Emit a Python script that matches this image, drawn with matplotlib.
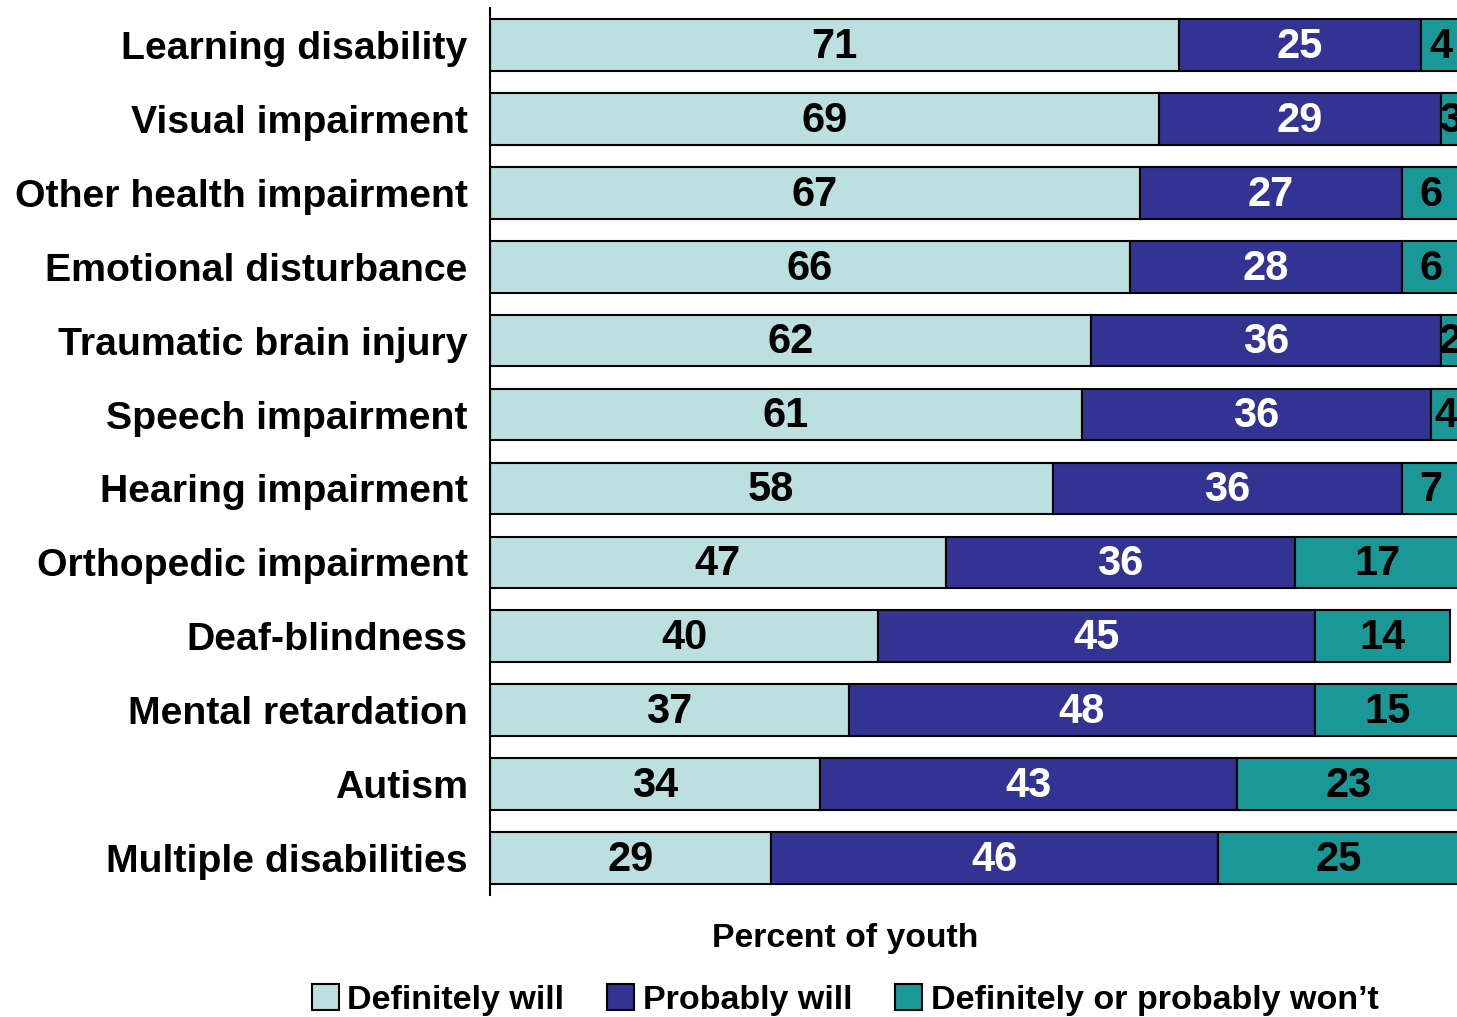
import numpy as np
import matplotlib.pyplot as plt
from matplotlib.patches import Patch

plt.rcParams['font.family'] = ['Liberation Sans', 'DejaVu Sans']
plt.rcParams['font.weight'] = 'bold'

categories = [
    "Learning disability", "Visual impairment", "Other health impairment",
    "Emotional disturbance", "Traumatic brain injury", "Speech impairment",
    "Hearing impairment", "Orthopedic impairment", "Deaf-blindness",
    "Mental retardation", "Autism", "Multiple disabilities",
]
definitely_will = [71, 69, 67, 66, 62, 61, 58, 47, 40, 37, 34, 29]
probably_will = [25, 29, 27, 28, 36, 36, 36, 36, 45, 48, 43, 46]
wont = [4, 3, 6, 6, 2, 4, 7, 17, 14, 15, 23, 25]

series = ["Definitely will", "Probably will", "Definitely or probably won\u2019t"]
colors = ["#bcdfdf", "#333393", "#1a9898"]
text_colors = ["black", "white", "black"]

fig = plt.figure(figsize=(14.57, 10.17), dpi=100)
ax = fig.add_axes([490 / 1457, 1 - 895 / 1017, 970 / 1457, 887 / 1017])

y = np.arange(len(categories))
left = np.zeros(len(categories))
for vals, col, tcol in zip([definitely_will, probably_will, wont], colors, text_colors):
    vals = np.array(vals, dtype=float)
    ax.barh(y, vals, left=left, height=0.7, color=col, edgecolor='black', linewidth=1.5)
    for yi, l, v in zip(y, left, vals):
        right = min(l + v, 100)
        ax.text((l + right) / 2, yi + 0.025, f"{int(v)}", ha='center', va='center',
                fontsize=30, fontweight='bold', color=tcol, clip_on=True)
    left += vals

ax.set_xlim(0, 100)
ax.set_ylim(len(categories) - 0.5, -0.5)
ax.set_yticks(y)
ax.set_yticklabels(categories, fontsize=28.3, fontweight='bold', va='center_baseline')
ax.tick_params(axis='y', length=0, pad=16)
ax.set_xticks([])
for s in ['top', 'right', 'bottom']:
    ax.spines[s].set_visible(False)
ax.spines['left'].set_linewidth(1.5)

fig.text(845 / 1457, 1 - 938 / 1017, "Percent of youth", ha='center', va='center',
         fontsize=24.3, fontweight='bold')

handles = [Patch(facecolor=c, edgecolor='black', linewidth=1.5) for c in colors]
fig.legend(handles, series, loc='center', bbox_to_anchor=(845 / 1457, 1 - 1000 / 1017),
           ncol=3, frameon=False, fontsize=24.5, handlelength=0.8, handleheight=0.8,
           handletextpad=0.25, columnspacing=1.25, borderaxespad=0)

fig.savefig("out.png", dpi=100)
